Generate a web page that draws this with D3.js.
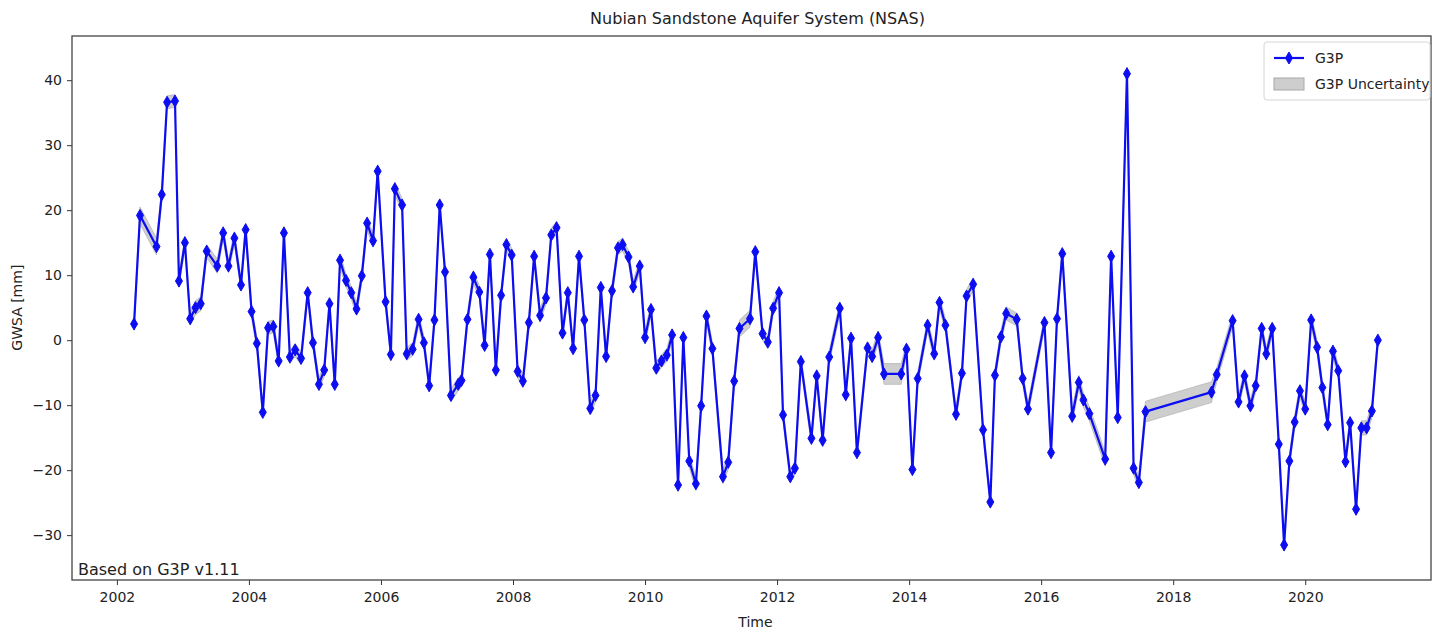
<!DOCTYPE html>
<html>
<head>
<meta charset="utf-8">
<script src="https://cdn.jsdelivr.net/npm/d3@7"></script>
<style>
  body { margin: 0; background: #fff; }
  text { font-family: "DejaVu Sans", sans-serif; fill: #222; }
</style>
</head>
<body>
<div id="chart"></div>
<script>
// G3P groundwater storage anomaly, NSAS (decimal year, mm)
var times = [
  2002.26, 2002.35, 2002.60, 2002.68, 2002.76, 2002.88, 2002.94, 2003.03, 2003.11, 2003.19,
  2003.27, 2003.36, 2003.52, 2003.61, 2003.69, 2003.78, 2003.88, 2003.95, 2004.04, 2004.12,
  2004.21, 2004.29, 2004.37, 2004.45, 2004.53, 2004.62, 2004.70, 2004.79, 2004.89, 2004.97,
  2005.06, 2005.14, 2005.22, 2005.30, 2005.38, 2005.47, 2005.55, 2005.63, 2005.71, 2005.79,
  2005.88, 2005.95, 2006.07, 2006.15, 2006.21, 2006.32, 2006.39, 2006.48, 2006.57, 2006.65,
  2006.73, 2006.81, 2006.89, 2006.97, 2007.06, 2007.17, 2007.22, 2007.31, 2007.40, 2007.49,
  2007.57, 2007.65, 2007.74, 2007.82, 2007.90, 2007.98, 2008.07, 2008.15, 2008.24, 2008.32,
  2008.41, 2008.50, 2008.58, 2008.66, 2008.75, 2008.83, 2008.91, 2009.00, 2009.08, 2009.17,
  2009.25, 2009.33, 2009.41, 2009.50, 2009.59, 2009.66, 2009.75, 2009.82, 2009.92, 2010.00,
  2010.09, 2010.17, 2010.25, 2010.33, 2010.41, 2010.50, 2010.58, 2010.67, 2010.77, 2010.85,
  2010.93, 2011.02, 2011.18, 2011.26, 2011.35, 2011.43, 2011.59, 2011.67, 2011.78, 2011.86,
  2011.94, 2012.03, 2012.09, 2012.20, 2012.27, 2012.36, 2012.52, 2012.60, 2012.69, 2012.79,
  2012.95, 2013.04, 2013.12, 2013.21, 2013.37, 2013.44, 2013.53, 2013.62, 2013.88, 2013.96,
  2014.05, 2014.13, 2014.28, 2014.38, 2014.46, 2014.55, 2014.71, 2014.80, 2014.87, 2014.97,
  2015.12, 2015.23, 2015.30, 2015.39, 2015.47, 2015.63, 2015.72, 2015.80, 2016.05, 2016.15,
  2016.24, 2016.32, 2016.47, 2016.57, 2016.64, 2016.73, 2016.97, 2017.06, 2017.16, 2017.30,
  2017.40, 2017.48, 2017.58, 2018.58, 2018.66, 2018.90, 2018.99, 2019.08, 2019.17, 2019.25,
  2019.34, 2019.41, 2019.50, 2019.60, 2019.68, 2019.76, 2019.84, 2019.92, 2020.00, 2020.09,
  2020.18, 2020.26, 2020.34, 2020.42, 2020.50, 2020.61, 2020.68, 2020.77, 2020.85, 2020.93,
  2021.01, 2021.10
]
var gwsa = [
  2.5, 19.2, 14.4, 22.4, 36.6, 36.8, 9.1, 15.0, 3.3, 5.0,
  5.6, 13.7, 11.4, 16.5, 11.4, 15.7, 8.5, 17.0, 4.4, -0.5,
  -11.1, 1.9, 2.1, -3.2, 16.5, -2.6, -1.5, -2.8, 7.3, -0.4,
  -6.8, -4.6, 5.6, -6.8, 12.3, 9.2, 7.3, 4.8, 9.9, 18.0,
  15.3, 26.0, 5.9, -2.2, 23.3, 20.8, -2.1, -1.4, 3.2, -0.4,
  -7.0, 3.1, 20.8, 10.5, -8.5, -6.8, -6.2, 3.2, 9.7, 7.4,
  -0.8, 13.2, -4.6, 6.9, 14.7, 13.1, -4.8, -6.3, 2.7, 12.9,
  3.8, 6.5, 16.2, 17.3, 1.1, 7.3, -1.3, 12.9, 3.1, -10.5,
  -8.5, 8.1, -2.5, 7.6, 14.2, 14.7, 12.8, 8.2, 11.4, 0.4,
  4.7, -4.3, -3.2, -2.3, 0.8, -22.3, 0.4, -18.6, -22.1, -10.1,
  3.7, -1.3, -21.0, -18.8, -6.3, 1.8, 3.3, 13.6, 1.0, -0.3,
  4.9, 7.3, -11.5, -21.0, -19.7, -3.3, -15.1, -5.5, -15.4, -2.6,
  4.9, -8.4, 0.3, -17.3, -1.2, -2.5, 0.4, -5.2, -5.2, -1.4,
  -19.9, -5.9, 2.3, -2.1, 5.8, 2.3, -11.4, -5.1, 6.8, 8.6,
  -13.8, -24.9, -5.4, 0.5, 4.1, 3.2, -5.9, -10.6, 2.7, -17.3,
  3.3, 13.3, -11.7, -6.5, -9.2, -11.3, -18.3, 12.9, -11.9, 41.0,
  -19.7, -21.9, -11.0, -8.0, -5.3, 3.0, -9.5, -5.5, -10.1, -7.0,
  1.8, -2.1, 1.8, -16.0, -31.5, -18.6, -12.6, -7.8, -10.6, 3.1,
  -1.1, -7.3, -13.0, -1.7, -4.7, -18.7, -12.7, -26.0, -13.5, -13.5,
  -10.9, 0.0
]
// half width of the uncertainty band (mm)
var unc = [
  1.0, 1.3, 1.3, 1.0, 1.0, 1.0, 1.0, 1.0, 1.0, 1.1,
  1.1, 1.0, 1.1, 1.0, 1.0, 1.0, 1.0, 1.0, 1.0, 1.0,
  1.0, 1.0, 1.0, 1.0, 1.0, 1.0, 1.0, 1.0, 1.0, 1.0,
  1.0, 1.0, 1.0, 1.0, 1.0, 1.0, 1.0, 1.0, 1.0, 1.0,
  1.0, 1.0, 1.0, 1.0, 1.0, 1.0, 1.0, 1.0, 1.0, 1.0,
  1.0, 1.0, 1.0, 1.0, 1.0, 1.0, 1.0, 1.0, 1.0, 1.0,
  1.0, 1.0, 1.0, 1.0, 1.0, 1.0, 1.0, 1.0, 1.0, 1.0,
  1.0, 1.0, 1.0, 1.0, 1.0, 1.0, 1.0, 1.0, 1.0, 1.0,
  1.0, 1.0, 1.0, 1.0, 1.0, 1.0, 1.0, 1.0, 1.0, 1.0,
  1.0, 1.0, 1.0, 1.0, 1.0, 1.0, 1.0, 1.0, 1.0, 1.0,
  1.0, 1.0, 1.1, 1.1, 1.1, 1.3, 1.3, 1.0, 1.0, 1.0,
  1.0, 1.0, 1.0, 1.0, 1.0, 1.0, 1.0, 1.0, 1.0, 1.0,
  1.0, 1.0, 1.0, 1.0, 1.0, 1.0, 1.0, 1.6, 1.6, 1.0,
  1.0, 1.0, 1.0, 1.0, 1.0, 1.0, 1.0, 1.0, 1.0, 1.0,
  1.0, 1.0, 1.0, 1.0, 1.0, 1.0, 1.0, 1.0, 1.0, 1.0,
  1.0, 1.0, 1.1, 1.1, 1.1, 1.1, 1.1, 1.0, 1.0, 1.0,
  1.0, 1.0, 1.6, 1.6, 1.1, 1.0, 1.0, 1.0, 1.0, 1.0,
  1.0, 1.0, 1.0, 1.0, 1.0, 1.0, 1.0, 1.0, 1.0, 1.0,
  1.0, 1.0, 1.0, 1.0, 1.0, 1.0, 1.0, 1.0, 1.1, 1.1,
  1.1, 1.0
]
var xTicks = [2002, 2004, 2006, 2008, 2010, 2012, 2014, 2016, 2018, 2020]
var yTicks = [-30, -20, -10, 0, 10, 20, 30, 40]

var data = times.map(function(t, i) { return {t: t, v: gwsa[i], u: unc[i]} })

var W = 1432, H = 632
var margin = {top: 36, right: 1, bottom: 52, left: 72}
var width = W - margin.left - margin.right
var height = H - margin.top - margin.bottom

var x = d3.scaleLinear().domain([2001.32, 2021.89]).range([0, width - 1])
var y = d3.scaleLinear().domain([-36.9, 46.8]).range([height, 0])

var svg = d3.select("#chart").append("svg")
    .attr("width", W)
    .attr("height", H)

var g = svg.append("g")
    .attr("transform", "translate(" + margin.left + "," + margin.top + ")")

g.append("defs").append("clipPath").attr("id", "clip")
  .append("rect").attr("width", width).attr("height", height)

var plot = g.append("g").attr("clip-path", "url(#clip)")

// uncertainty band
plot.append("path")
    .datum(data)
    .attr("fill", "#bdbdbd")
    .attr("fill-opacity", 0.75)
    .attr("stroke", "#a8a8a8")
    .attr("stroke-width", 0.6)
    .attr("d", d3.area()
      .x(function(d) { return x(d.t) })
      .y0(function(d) { return y(d.v - d.u) })
      .y1(function(d) { return y(d.v + d.u) }))

// main line
plot.append("path")
    .datum(data)
    .attr("fill", "none")
    .attr("stroke", "#0d0df2")
    .attr("stroke-width", 2.2)
    .attr("stroke-linejoin", "round")
    .attr("d", d3.line()
      .x(function(d) { return x(d.t) })
      .y(function(d) { return y(d.v) }))

var diamond = "M0,-6L3.5,0L0,6L-3.5,0Z"

plot.selectAll(".pt")
    .data(data)
  .enter().append("path")
    .attr("class", "pt")
    .attr("transform", function(d) { return "translate(" + x(d.t) + "," + y(d.v) + ")" })
    .attr("d", diamond)
    .attr("fill", "#0d0df2")
    .attr("stroke", "#0d0df2")
    .attr("stroke-width", 1)

// axes
var xAxis = g.append("g")
    .attr("transform", "translate(0," + height + ")")
    .call(d3.axisBottom(x).tickValues(xTicks).tickFormat(d3.format("d")).tickSize(5).tickPadding(7))
var yAxis = g.append("g")
    .call(d3.axisLeft(y).tickValues(yTicks).tickFormat(function(d) { return d < 0 ? "\u2212" + Math.abs(d) : d }).tickSize(5).tickPadding(5))

;[xAxis, yAxis].forEach(function(a) {
  a.select(".domain").remove()
  a.selectAll(".tick line").attr("stroke", "#333")
  a.selectAll(".tick text").attr("font-size", "14px").attr("fill", "#222")
    .style("font-family", "'DejaVu Sans', sans-serif")
})

// frame
g.append("rect")
    .attr("width", width)
    .attr("height", height)
    .attr("fill", "none")
    .attr("stroke", "#444")
    .attr("stroke-width", 1.3)

// title and labels
svg.append("text")
    .attr("x", margin.left + width / 2 + 6)
    .attr("y", 24)
    .attr("text-anchor", "middle")
    .attr("font-size", "16px")
    .text("Nubian Sandstone Aquifer System (NSAS)")

svg.append("text")
    .attr("x", margin.left + width / 2 + 4)
    .attr("y", 627)
    .attr("text-anchor", "middle")
    .attr("font-size", "14px")
    .text("Time")

svg.append("text")
    .attr("transform", "translate(22," + (margin.top + y(5)) + ") rotate(-90)")
    .attr("text-anchor", "middle")
    .attr("font-size", "14px")
    .text("GWSA [mm]")

g.append("text")
    .attr("x", 6)
    .attr("y", height - 5)
    .attr("font-size", "16px")
    .text("Based on G3P v1.11")

// legend
var lg = svg.append("g").attr("transform", "translate(1264,42)")
lg.append("rect")
    .attr("width", 166).attr("height", 58)
    .attr("rx", 3)
    .attr("fill", "#fff")
    .attr("fill-opacity", 0.85)
    .attr("stroke", "#d6d6d6")
lg.append("line")
    .attr("x1", 10).attr("x2", 40).attr("y1", 16).attr("y2", 16)
    .attr("stroke", "#0d0df2").attr("stroke-width", 2.2)
lg.append("path")
    .attr("transform", "translate(25,16)")
    .attr("d", diamond)
    .attr("fill", "#0d0df2").attr("stroke", "#0d0df2")
lg.append("rect")
    .attr("x", 10).attr("y", 36).attr("width", 30).attr("height", 12)
    .attr("fill", "#bdbdbd").attr("fill-opacity", 0.75)
    .attr("stroke", "#a8a8a8")
lg.append("text").attr("x", 51).attr("y", 21).attr("font-size", "14px").text("G3P")
lg.append("text").attr("x", 51).attr("y", 47).attr("font-size", "14px").text("G3P Uncertainty")
</script>
</body>
</html>
